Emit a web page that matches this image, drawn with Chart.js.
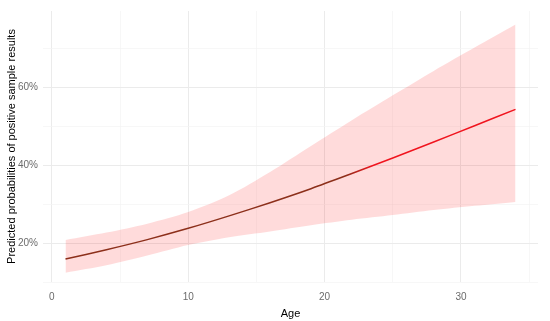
<!DOCTYPE html>
<html>
<head>
<meta charset="utf-8">
<script src="https://cdn.jsdelivr.net/npm/chart.js@4.4.1/dist/chart.umd.min.js"></script>
<style>
  html, body { margin: 0; padding: 0; background: #ffffff; }
  #wrap { width: 550px; height: 321px; position: relative; }
</style>
</head>
<body>
<div id="wrap"><canvas id="grafico"></canvas></div>
<script>
// idades (eixo x)
const idades = [1, 4, 7, 10, 13, 16, 19, 22, 25, 28, 31, 34];
// probabilidade prevista (%)
const previsto = [15.9, 18.3, 20.9, 23.8, 27.0, 30.4, 34.0, 37.9, 41.9, 46.0, 50.2, 54.4];
// intervalo de confiança (%)
const limiteSup = [20.8, 22.7, 25.0, 28.0, 32.3, 38.3, 45.0, 51.6, 58.0, 64.3, 70.3, 76.2];
const limiteInf = [12.4, 14.3, 16.8, 19.5, 21.5, 23.0, 24.6, 26.0, 27.2, 28.5, 29.6, 30.6];

// marcas dos eixos
const ticksX = [0, 5, 10, 15, 20, 25, 30, 35];
const ticksY = [10, 20, 30, 40, 50, 60, 70];
const rotulosX = [0, 10, 20, 30];
const rotulosY = [20, 40, 60];

function pontos(valores) {
    return idades.map(function (idade, i) { return { x: idade, y: valores[i] }; });
}

const corGrade = function (ctx, rotulos) {
    return rotulos.indexOf(ctx.tick.value) >= 0 ? "#ebebeb" : "#f3f3f3";
};

// cor da linha: marrom no começo, vermelho depois
function corLinha(context) {
    const chart = context.chart;
    const area = chart.chartArea;
    if (!area) return "#8c2f1a";
    const x = chart.scales.x;
    const g = chart.ctx.createLinearGradient(area.left, 0, area.right, 0);
    const w = area.right - area.left;
    g.addColorStop(0, "#8c2f1a");
    g.addColorStop((x.getPixelForValue(21.5) - area.left) / w, "#8c2f1a");
    g.addColorStop((x.getPixelForValue(23.5) - area.left) / w, "#f0141e");
    g.addColorStop(1, "#f0141e");
    return g;
}

const ctx = document.getElementById("grafico").getContext("2d");
new Chart(ctx, {
    type: "line",
    data: {
        datasets: [
            {
                label: "previsto",
                data: pontos(previsto),
                borderColor: corLinha,
                borderWidth: 1.5,
                pointRadius: 0,
                tension: 0.3,
                fill: false
            },
            {
                label: "superior",
                data: pontos(limiteSup),
                borderWidth: 0,
                borderColor: "rgba(0,0,0,0)",
                backgroundColor: "rgba(255, 0, 0, 0.14)",
                pointRadius: 0,
                tension: 0.3,
                fill: "+1"
            },
            {
                label: "inferior",
                data: pontos(limiteInf),
                borderWidth: 0,
                borderColor: "rgba(0,0,0,0)",
                pointRadius: 0,
                tension: 0.3,
                fill: false
            }
        ]
    },
    options: {
        responsive: true,
        maintainAspectRatio: false,
        animation: false,
        layout: { padding: { top: 10, right: 12, left: 0, bottom: 0 } },
        plugins: {
            legend: { display: false },
            tooltip: { enabled: false }
        },
        scales: {
            x: {
                type: "linear",
                min: -0.65,
                max: 35.65,
                afterBuildTicks: function (s) { s.ticks = ticksX.map(function (v) { return { value: v }; }); },
                afterFit: function (s) { s.height = 39; },
                border: { display: false },
                grid: {
                    drawTicks: false,
                    color: function (c) { return corGrade(c, rotulosX); },
                    lineWidth: function (c) { return rotulosX.indexOf(c.tick.value) >= 0 ? 1 : 0.7; }
                },
                ticks: {
                    padding: 9,
                    color: "#6b6b6b",
                    font: { family: "Liberation Sans, Arial, sans-serif", size: 10 },
                    maxRotation: 0,
                    autoSkip: false,
                    callback: function (v) { return rotulosX.indexOf(v) >= 0 ? String(v) : ""; }
                },
                title: {
                    display: true,
                    text: "Age",
                    color: "#000000",
                    font: { family: "Liberation Sans, Arial, sans-serif", size: 11 },
                    padding: { top: 1, bottom: 0 }
                }
            },
            y: {
                type: "linear",
                min: 10,
                max: 79.7,
                afterBuildTicks: function (s) { s.ticks = ticksY.map(function (v) { return { value: v }; }); },
                afterFit: function (s) { s.width = 43; },
                border: { display: false },
                grid: {
                    drawTicks: false,
                    color: function (c) { return corGrade(c, rotulosY); },
                    lineWidth: function (c) { return rotulosY.indexOf(c.tick.value) >= 0 ? 1 : 0.7; }
                },
                ticks: {
                    padding: 5,
                    color: "#6b6b6b",
                    font: { family: "Liberation Sans, Arial, sans-serif", size: 10 },
                    autoSkip: false,
                    callback: function (v) { return rotulosY.indexOf(v) >= 0 ? v + "%" : ""; }
                },
                title: {
                    display: true,
                    text: "Predicted probabilities of positive sample results",
                    color: "#000000",
                    font: { family: "Liberation Sans, Arial, sans-serif", size: 11 },
                    padding: { top: 5, bottom: 0 }
                }
            }
        }
    }
});
</script>
</body>
</html>
